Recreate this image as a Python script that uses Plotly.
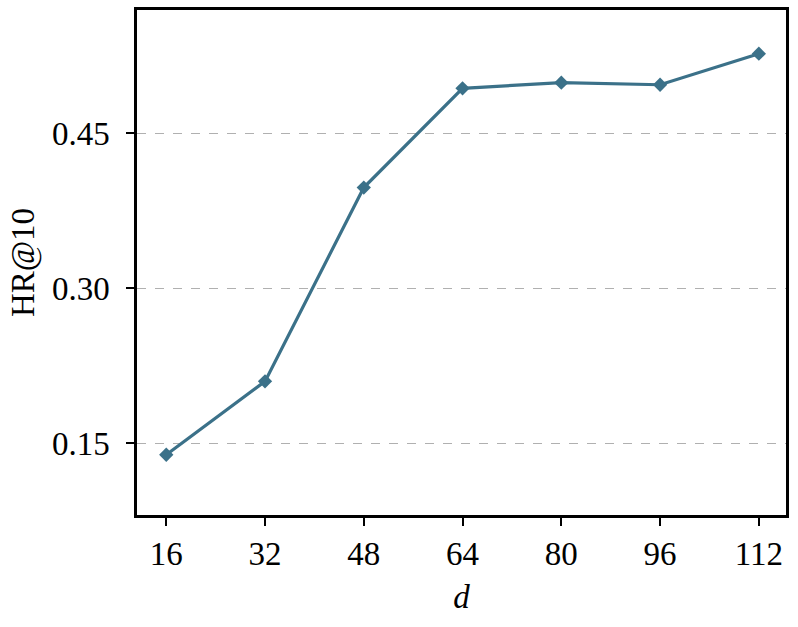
import plotly.graph_objects as go

d_values = [16, 32, 48, 64, 80, 96, 112]
hr10 = [0.139, 0.210, 0.3975, 0.4935, 0.499, 0.497, 0.527]
y_ticks = [0.15, 0.30, 0.45]
y_tick_labels = ["0.15", "0.30", "0.45"]

color = "#3b7189"
font_family = "Liberation Serif, DejaVu Serif, serif"

fig = go.Figure()
fig.add_trace(go.Scatter(
    x=d_values, y=hr10, mode="lines+markers",
    line=dict(color=color, width=3.2),
    marker=dict(symbol="diamond", size=11, color=color),
    showlegend=False,
))

fig.update_layout(
    width=798, height=627,
    margin=dict(l=137, r=11.5, t=9.5, b=111.5),
    paper_bgcolor="white", plot_bgcolor="white",
    font=dict(family=font_family, size=33, color="black"),
    xaxis=dict(
        range=[11.26, 116.40],
        tickvals=d_values, ticktext=[str(v) for v in d_values],
        showline=True, linecolor="black", linewidth=2.5, mirror=True,
        ticks="outside", ticklen=8, tickwidth=2, tickcolor="black",
        showgrid=False, zeroline=False, automargin=False,
        title=dict(text="<i>d</i>", font=dict(size=33), standoff=14),
    ),
    yaxis=dict(
        range=[0.0807, 0.5693],
        tickvals=y_ticks, ticktext=y_tick_labels,
        showline=True, linecolor="black", linewidth=2.5, mirror=True,
        ticks="outside", ticklen=8, tickwidth=2, tickcolor="black",
        ticklabelstandoff=10,
        showgrid=True, gridcolor="#b0b0b0", gridwidth=1, griddash="dash",
        zeroline=False, automargin=False,
        title=dict(text="HR@10", font=dict(size=33), standoff=8),
    ),
)

fig.write_html(
    "out.html",
    config={"displayModeBar": False},
    post_script="document.body.style.margin='0';document.body.style.overflow='hidden';",
)
